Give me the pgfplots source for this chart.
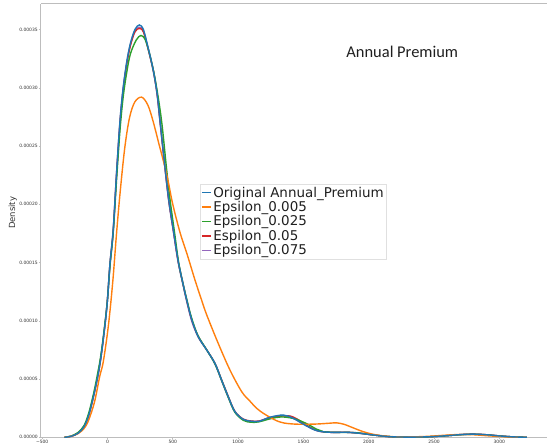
\documentclass[border=0pt]{standalone}
\usepackage{fontspec}
\setmainfont{DejaVu Sans}
\newfontfamily\titlefont{Carlito}
\usepackage{pgfplots}
\pgfplotsset{compat=1.18}
\definecolor{tabblue}{HTML}{1F77B4}
\definecolor{taborange}{HTML}{FF7F0E}
\definecolor{tabgreen}{HTML}{2CA02C}
\definecolor{tabred}{HTML}{D62728}
\definecolor{tabpurple}{HTML}{9467BD}
\definecolor{spine}{HTML}{BDBDBD}
\definecolor{ticktext}{HTML}{333333}
\begin{document}
\begin{tikzpicture}
\begin{axis}[
  at={(0,0)}, anchor=south west,
  scale only axis,
  width=506bp, height=433.3bp,
  xmin=-509, xmax=3365,
  ymin=0, ymax=0.000372,
  axis x line*=box, axis y line*=left,
  axis line style={draw=spine, line width=1bp},
  xtick={-500,0,500,1000,1500,2000,2500,3000},
  xticklabels={−500,0,500,1000,1500,2000,2500,3000},
  ytick={0,0.00005,0.0001,0.00015,0.0002,0.00025,0.0003,0.00035},
  scaled y ticks=false,
  yticklabel style={/pgf/number format/.cd, fixed, fixed zerofill, precision=5},
  /pgf/number format/assume math mode=true,
  tick align=outside,
  major tick length=2bp,
  tick style={draw=spine, line width=0.6bp},
  ticklabel style={font=\fontsize{4.5}{5}\selectfont, text=ticktext, inner sep=1bp},
  xticklabel style={yshift=0.6bp},
  xtick pos=bottom, ytick pos=left,
  ylabel={Density},
  ylabel style={at={(axis description cs:-0.0559,0.518)}, anchor=center, rotate=0, font=\fontsize{8.5}{10}\selectfont, text=ticktext},
  legend style={at={(axis description cs:0.314,0.585)}, anchor=north west,
    draw=black!12, line width=0.6bp, fill=white,
    font=\fontsize{13.5}{14}\selectfont, text=black!88,
    inner xsep=1bp, inner ysep=1.5bp, row sep=0.3bp,
    nodes={inner xsep=2bp, inner ysep=1.2bp}},
  legend cell align=left,
  legend image code/.code={\draw[#1, line width=1.2bp] (0bp,0bp) -- (9bp,0bp);},
  every axis plot/.append style={line width=1.4bp, smooth, tension=0.55},
]
% Epsilon_0.075 (purple)
\addplot[tabpurple, forget plot] coordinates {
(-330,0) (-280,0.0000008) (-225,0.0000036) (-180,0.000009) (-147,0.0000180)
(-120,0.000029) (-96,0.0000410) (-75,0.000052) (-57,0.0000640) (-40,0.000078)
(-24,0.0000925) (-10,0.000107) (2,0.000122) (19,0.000149) (44,0.000179)
(70,0.000228) (96,0.000271) (120,0.000299) (147,0.000321) (175,0.000337)
(210,0.000349) (244,0.000352) (275,0.000349) (310,0.000334) (351,0.000314)
(380,0.000294) (402,0.000271) (440,0.000231) (470,0.000202) (504,0.000177)
(540,0.000151) (576,0.000132) (606,0.000117) (645,0.0000998) (695,0.0000860)
(760,0.0000750) (823,0.0000630) (874,0.0000485) (925,0.0000342) (976,0.0000216)
(1040,0.0000152) (1100,0.0000138) (1160,0.0000138) (1244,0.0000170) (1346,0.0000187)
(1423,0.0000162) (1512,0.0000106) (1602,0.0000058) (1704,0.0000043) (1832,0.0000043)
(1933,0.0000034) (2035,0.0000020) (2163,0.0000005) (2300,0.0000002) (2450,0.0000004)
(2600,0.0000014) (2700,0.0000023) (2800,0.0000027) (2900,0.0000022) (3000,0.0000012)
(3100,0.0000004) (3210,0)
};
% Epsilon_0.05 (red)
\addplot[tabred, forget plot] coordinates {
(-330,0) (-280,0.0000008) (-225,0.0000035) (-180,0.000009) (-147,0.0000178)
(-120,0.000029) (-96,0.0000407) (-75,0.000052) (-57,0.0000635) (-40,0.000077)
(-24,0.0000919) (-10,0.000106) (2,0.000121) (19,0.000148) (44,0.000177)
(70,0.000226) (96,0.000270) (120,0.000298) (147,0.000320) (175,0.000336)
(210,0.000348) (244,0.000351) (275,0.000348) (310,0.000334) (351,0.000315)
(380,0.000295) (402,0.000272) (440,0.000232) (470,0.000203) (504,0.000178)
(540,0.000152) (576,0.000133) (606,0.000118) (645,0.000101) (695,0.0000865)
(760,0.0000750) (823,0.0000635) (874,0.0000493) (925,0.0000350) (976,0.0000222)
(1040,0.0000156) (1100,0.0000140) (1160,0.0000139) (1244,0.0000168) (1380,0.0000185)
(1450,0.0000158) (1525,0.0000102) (1610,0.0000056) (1704,0.0000043) (1832,0.0000043)
(1933,0.0000035) (2035,0.0000020) (2163,0.0000005) (2300,0.0000002) (2450,0.0000004)
(2600,0.0000014) (2700,0.0000023) (2800,0.0000027) (2900,0.0000022) (3000,0.0000012)
(3100,0.0000004) (3210,0)
};
% Epsilon_0.025 (green)
\addplot[tabgreen, forget plot] coordinates {
(-330,0) (-280,0.0000010) (-225,0.0000042) (-180,0.000010) (-147,0.0000195)
(-120,0.000031) (-96,0.0000430) (-75,0.000055) (-57,0.0000660) (-40,0.000079)
(-24,0.0000935) (-10,0.000107) (2,0.000121) (19,0.000147) (44,0.000176)
(70,0.000222) (96,0.000264) (120,0.000292) (147,0.000313) (175,0.000329)
(220,0.000341) (257,0.000345) (290,0.000341) (325,0.000328) (362,0.000309)
(395,0.000287) (420,0.000266) (450,0.000233) (480,0.000203) (512,0.000177)
(545,0.000150) (580,0.000131) (606,0.000119) (640,0.000104) (690,0.0000880)
(760,0.0000750) (823,0.0000630) (874,0.0000488) (925,0.0000342) (976,0.0000214)
(1040,0.0000146) (1100,0.0000129) (1160,0.0000133) (1250,0.0000160) (1330,0.0000175)
(1430,0.0000160) (1525,0.0000117) (1600,0.0000070) (1653,0.0000048) (1760,0.0000042)
(1880,0.0000041) (1960,0.0000032) (2050,0.0000018) (2170,0.0000005) (2300,0.0000002)
(2450,0.0000004) (2600,0.0000014) (2700,0.0000022) (2800,0.0000026) (2900,0.0000021)
(3000,0.0000011) (3100,0.0000004) (3210,0)
};
% Epsilon_0.005 (orange)
\addplot[taborange, forget plot] coordinates {
(-330,0) (-280,0.0000008) (-225,0.0000032) (-180,0.0000075) (-147,0.0000140)
(-100,0.000030) (-60,0.000052) (-32,0.0000650) (6,0.0000950) (40,0.000133)
(70,0.000176) (100,0.000214) (134,0.000250) (170,0.000275) (210,0.000288)
(262,0.000292) (310,0.000285) (350,0.000271) (389,0.000254) (440,0.000232)
(466,0.000219) (500,0.000200) (555,0.000176) (610,0.000157) (670,0.000135)
(720,0.000118) (760,0.000105) (848,0.0000806) (938,0.0000577) (1028,0.0000391)
(1091,0.0000310) (1142,0.0000249) (1193,0.0000206) (1244,0.0000172) (1295,0.0000142)
(1350,0.0000123) (1423,0.0000114) (1500,0.0000112) (1602,0.0000114) (1700,0.0000121)
(1755,0.0000124) (1810,0.0000112) (1857,0.0000092) (1959,0.0000048) (2061,0.0000020)
(2188,0.0000005) (2300,0.0000003) (2450,0.0000008) (2600,0.0000019) (2700,0.0000024)
(2800,0.0000022) (2900,0.0000014) (3000,0.0000007) (3100,0.0000002) (3200,0)
};
% Original Annual_Premium (blue)
\addplot[tabblue, forget plot] coordinates {
(-330,0) (-280,0.0000008) (-225,0.0000035) (-180,0.000009) (-147,0.0000178)
(-120,0.000029) (-96,0.0000407) (-75,0.000052) (-57,0.0000635) (-40,0.000077)
(-24,0.0000919) (-10,0.000106) (2,0.000121) (19,0.000149) (44,0.000178)
(70,0.000228) (96,0.000272) (120,0.000300) (147,0.000322) (175,0.000338)
(210,0.000350) (244,0.000354) (275,0.000350) (310,0.000335) (351,0.000315)
(380,0.000295) (402,0.000272) (440,0.000232) (470,0.000203) (504,0.000178)
(540,0.000152) (576,0.000133) (606,0.000118) (645,0.000101) (695,0.0000863)
(760,0.0000749) (823,0.0000635) (874,0.0000491) (925,0.0000348) (976,0.0000220)
(1040,0.0000154) (1100,0.0000138) (1160,0.0000137) (1244,0.0000172) (1346,0.0000191)
(1423,0.0000163) (1512,0.0000105) (1602,0.0000057) (1704,0.0000043) (1832,0.0000043)
(1933,0.0000034) (2035,0.0000020) (2163,0.0000005) (2300,0.0000002) (2450,0.0000004)
(2600,0.0000014) (2700,0.0000023) (2800,0.0000027) (2900,0.0000022) (3000,0.0000012)
(3100,0.0000004) (3210,0)
};
\addlegendimage{tabblue}
\addlegendimage{taborange}
\addlegendimage{tabgreen}
\addlegendimage{tabred}
\addlegendimage{tabpurple}
\legend{Original Annual\_Premium, Epsilon\_0.005, Epsilon\_0.025, Espilon\_0.05, Epsilon\_0.075}
\node[font=\titlefont\fontsize{16.5}{18}\selectfont, text=black!88] at (axis description cs:0.714,0.889) {Annual Premium};
\end{axis}
\pgfresetboundingbox
\useasboundingbox (-41bp,-5.7bp) rectangle (506bp,437.3bp);
\end{tikzpicture}
\end{document}
